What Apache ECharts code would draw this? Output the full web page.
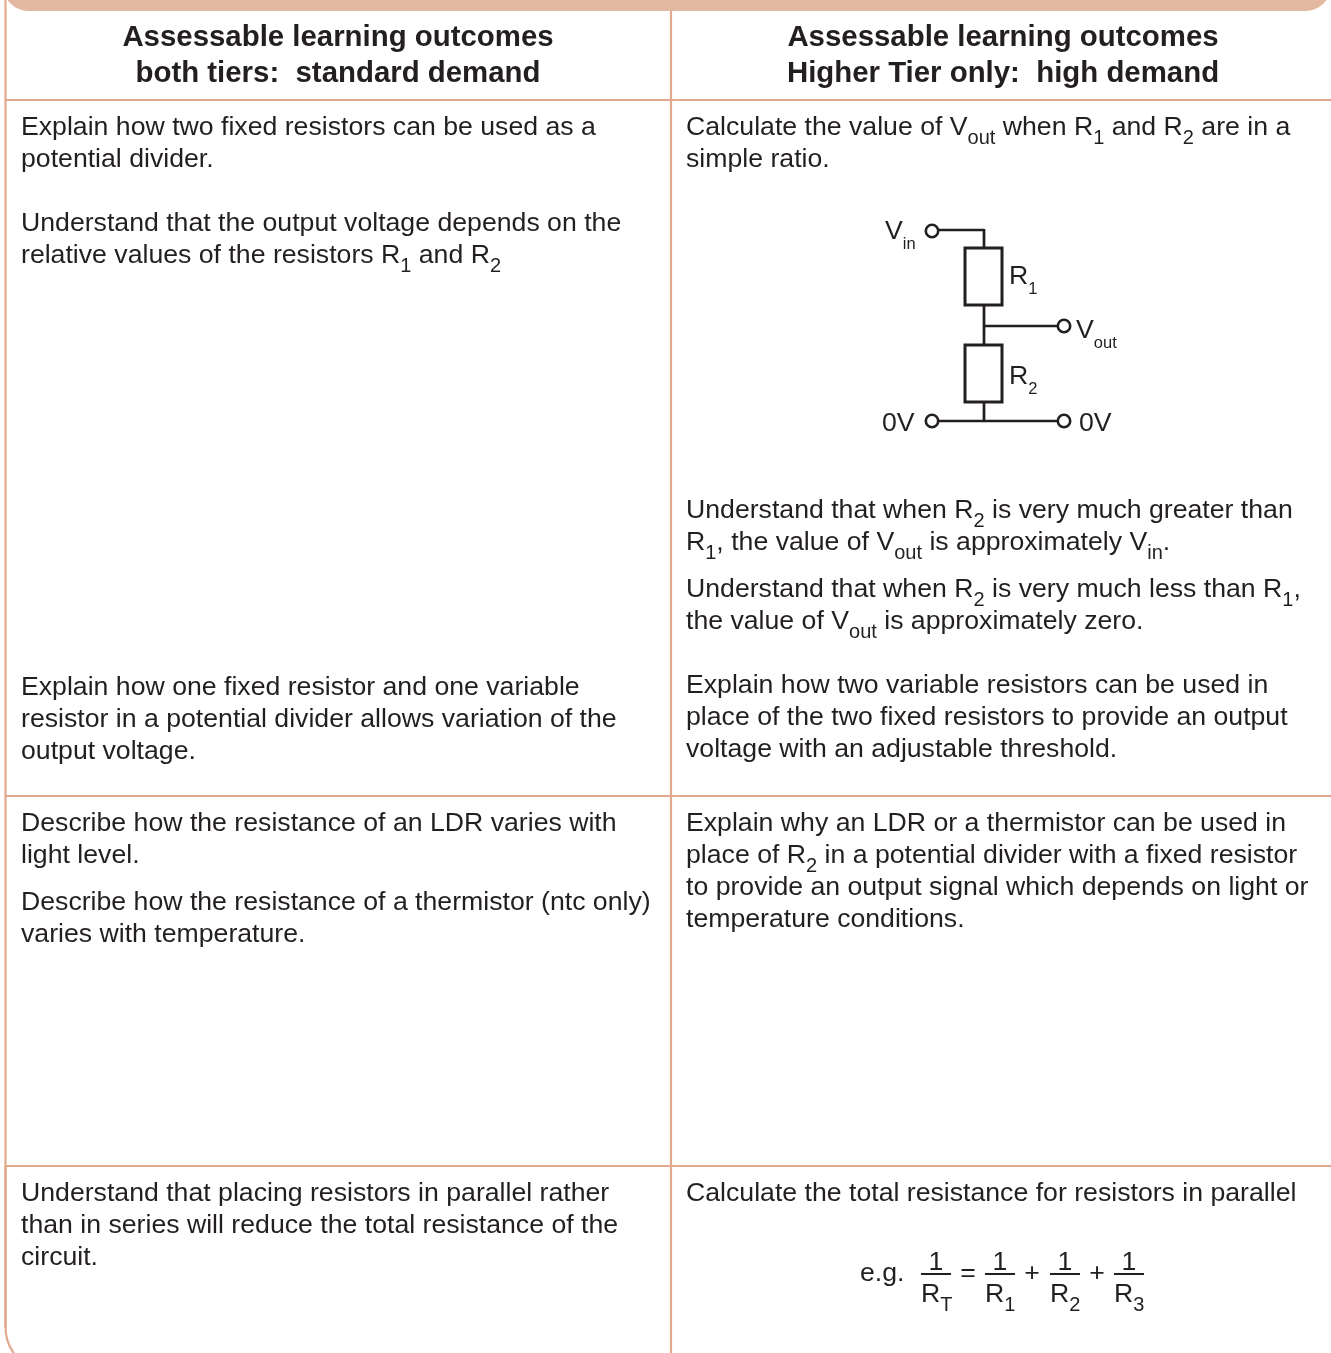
<!DOCTYPE html>
<html>
<head>
<meta charset="utf-8">
<title>Assessable learning outcomes</title>
<script src="https://cdn.jsdelivr.net/npm/echarts@6/dist/echarts.min.js"></script>
<style>
  html, body { margin: 0; padding: 0; background: #fff; overflow: hidden; }
  #chart { width: 1331px; height: 1353px; }
</style>
</head>
<body>
<div id="chart"></div>
<script>
// table text, {s|..} marks a subscript
const headingLeft = ['Assessable learning outcomes', 'both tiers:  standard demand']
const headingRight = ['Assessable learning outcomes', 'Higher Tier only:  high demand']
const bodyLeft = [
  'Explain how two fixed resistors can be used as a',
  'potential divider.',
  'Understand that the output voltage depends on the',
  'relative values of the resistors R{s|1} and R{s|2}',
  'Explain how one fixed resistor and one variable',
  'resistor in a potential divider allows variation of the',
  'output voltage.',
  'Describe how the resistance of an LDR varies with',
  'light level.',
  'Describe how the resistance of a thermistor (ntc only)',
  'varies with temperature.',
  'Understand that placing resistors in parallel rather',
  'than in series will reduce the total resistance of the',
  'circuit.'
]
const bodyRight = [
  'Calculate the value of V{s|out} when R{s|1} and R{s|2} are in a',
  'simple ratio.',
  'Understand that when R{s|2} is very much greater than',
  'R{s|1}, the value of V{s|out} is approximately V{s|in}.',
  'Understand that when R{s|2} is very much less than R{s|1},',
  'the value of V{s|out} is approximately zero.',
  'Explain how two variable resistors can be used in',
  'place of the two fixed resistors to provide an output',
  'voltage with an adjustable threshold.',
  'Explain why an LDR or a thermistor can be used in',
  'place of R{s|2} in a potential divider with a fixed resistor',
  'to provide an output signal which depends on light or',
  'temperature conditions.',
  'Calculate the total resistance for resistors in parallel'
]
const circuitLabels = ['V{c|in}', 'R{c|1}', 'V{c|out}', 'R{c|2}', '0V', '0V']
const fractionLabels = ['e.g.', '1', 'R{s|T}', '=', '1', 'R{s|1}', '+', '1', 'R{s|2}', '+', '1', 'R{s|3}']

// layout, in page pixels
const headingY = [38, 74]
const bodyLeftY = [128, 160, 224, 256, 688, 720, 752, 824, 856, 903, 935, 1194, 1226, 1258]
const bodyRightY = [128, 160, 511, 543, 590, 622, 686, 718, 750, 824, 856, 888, 920, 1194]
const circuitLabelX = [885, 1009, 1076, 1009, 882, 1079]
const circuitLabelY = [232, 277, 331, 377, 424, 424]
const fractionX = [860, 936, 921, 968, 1000, 985, 1032, 1065, 1050, 1097, 1129, 1114]
const fractionY = [1274, 1263, 1295, 1274, 1263, 1295, 1274, 1263, 1295, 1274, 1263, 1295]
const fractionAlign = ['left', 'center', 'left', 'center', 'center', 'left', 'center', 'center', 'left', 'center', 'center', 'left']

const ruleLines = [
  [5.5, 0, 5.5, 1328],
  [671, 0, 671, 1353],
  [5.5, 100, 1331, 100],
  [5.5, 796, 1331, 796],
  [5.5, 1166, 1331, 1166]
]
const wireLines = [
  [938, 230, 984, 230], [984, 229, 984, 248],
  [984, 305, 984, 345], [984, 326, 1058, 326],
  [984, 402, 984, 421], [938, 421, 1058, 421]
]
const fractionBars = [
  [921, 1274, 951, 1274], [985, 1274, 1015, 1274],
  [1050, 1274, 1080, 1274], [1114, 1274, 1144, 1274]
]
const resistorBoxes = [[965, 248, 37, 57], [965, 345, 37, 57]]
const terminals = [[932, 231], [1064, 326], [932, 421], [1064, 421]]

const TEXT_COLOR = '#231f20'
const RULE_COLOR = '#e2a98c'
const BAND_COLOR = '#e2b8a1'
const FONT = '"Liberation Sans", Arial, sans-serif'
const BODY_SIZE = 26.67

// height is what pushes the subscript down inside the 30px line
const richBody = {
  s: { fontFamily: FONT, fontSize: 20, height: 9, fill: TEXT_COLOR, verticalAlign: 'bottom' },
  c: { fontFamily: FONT, fontSize: 16.5, height: 6, fill: TEXT_COLOR, verticalAlign: 'bottom' }
}

function textItem(api, text, x, y, opts) {
  const p = api.coord([x, y])
  return {
    type: 'text',
    style: Object.assign({
      x: p[0],
      y: p[1],
      text: text,
      fontFamily: FONT,
      fontSize: BODY_SIZE,
      fill: TEXT_COLOR,
      lineHeight: 30,
      align: 'left',
      verticalAlign: 'middle',
      rich: richBody
    }, opts)
  }
}

function lineSeries(name, data, color, width) {
  return {
    name: name,
    type: 'custom',
    silent: true,
    coordinateSystem: 'cartesian2d',
    data: data,
    encode: { x: [0, 2], y: [1, 3] },
    renderItem(params, api) {
      const a = api.coord([api.value(0), api.value(1)])
      const b = api.coord([api.value(2), api.value(3)])
      return {
        type: 'line',
        shape: { x1: a[0], y1: a[1], x2: b[0], y2: b[1] },
        style: { stroke: color, lineWidth: width }
      }
    }
  }
}

function labelSeries(name, labels, xs, ys, opts, aligns) {
  return {
    name: name,
    type: 'custom',
    silent: true,
    coordinateSystem: 'cartesian2d',
    data: labels.map((t, i) => [xs[i], ys[i]]),
    encode: { x: 0, y: 1 },
    renderItem(params, api) {
      const o = aligns ? Object.assign({}, opts, { align: aligns[params.dataIndex] }) : opts
      return textItem(api, labels[params.dataIndex], api.value(0), api.value(1), o)
    }
  }
}

const chart = echarts.init(document.getElementById('chart'), null, { renderer: 'canvas' })
chart.setOption({
  animation: false,
  backgroundColor: '#fff',
  grid: { left: 0, right: 0, top: 0, bottom: 0 },
  xAxis: { type: 'value', min: 0, max: 1331, show: false },
  yAxis: { type: 'value', min: 0, max: 1353, inverse: true, show: false },
  tooltip: { show: false },
  series: [
    lineSeries('rules', ruleLines, RULE_COLOR, 2.2),
    // top band, its square top runs off the page
    {
      name: 'band',
      type: 'custom',
      silent: true,
      data: [[3, -40, 1328, 51, 26]],
      encode: { x: 0, y: 1 },
      renderItem(params, api) {
        const p = api.coord([api.value(0), api.value(1)])
        return {
          type: 'rect',
          shape: { x: p[0], y: p[1], width: api.value(2), height: api.value(3), r: api.value(4) },
          style: { fill: BAND_COLOR }
        }
      }
    },
    // rounded bottom left corner of the table
    {
      name: 'corner',
      type: 'custom',
      silent: true,
      data: [[5.5, 1166, 1400, 206, 45]],
      encode: { x: 0, y: 1 },
      renderItem(params, api) {
        const p = api.coord([api.value(0), api.value(1)])
        return {
          type: 'rect',
          shape: { x: p[0], y: p[1], width: api.value(2), height: api.value(3), r: [0, 0, 0, api.value(4)] },
          style: { fill: 'none', stroke: RULE_COLOR, lineWidth: 2.2 }
        }
      }
    },
    lineSeries('wires', wireLines, TEXT_COLOR, 2.7),
    lineSeries('fractionBars', fractionBars, TEXT_COLOR, 2),
    {
      name: 'resistors',
      type: 'custom',
      silent: true,
      data: resistorBoxes,
      encode: { x: 0, y: 1 },
      renderItem(params, api) {
        const p = api.coord([api.value(0), api.value(1)])
        return {
          type: 'rect',
          shape: { x: p[0], y: p[1], width: api.value(2), height: api.value(3) },
          style: { fill: '#fff', stroke: TEXT_COLOR, lineWidth: 3 }
        }
      }
    },
    {
      name: 'terminals',
      type: 'custom',
      silent: true,
      data: terminals,
      encode: { x: 0, y: 1 },
      renderItem(params, api) {
        const p = api.coord([api.value(0), api.value(1)])
        return {
          type: 'circle',
          shape: { cx: p[0], cy: p[1], r: 6.2 },
          style: { fill: '#fff', stroke: TEXT_COLOR, lineWidth: 2.6 }
        }
      }
    },
    labelSeries('headingLeft', headingLeft, [338, 338], headingY, { align: 'center', fontWeight: 'bold', fontSize: 29.4 }),
    labelSeries('headingRight', headingRight, [1003, 1003], headingY, { align: 'center', fontWeight: 'bold', fontSize: 29.4 }),
    labelSeries('bodyLeft', bodyLeft, bodyLeft.map(() => 21), bodyLeftY, {}),
    labelSeries('bodyRight', bodyRight, bodyRight.map(() => 686), bodyRightY, {}),
    labelSeries('circuit', circuitLabels, circuitLabelX, circuitLabelY, {}),
    labelSeries('fraction', fractionLabels, fractionX, fractionY, {}, fractionAlign)
  ]
})
</script>
</body>
</html>
